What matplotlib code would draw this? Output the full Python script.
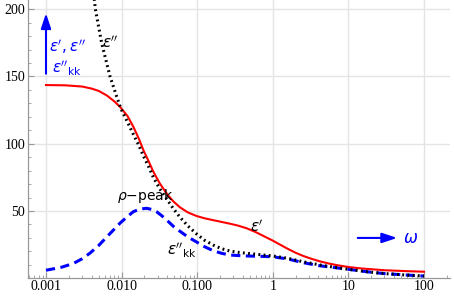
import matplotlib
matplotlib.use("Agg")
import matplotlib.pyplot as plt
import numpy as np
from matplotlib.ticker import FixedLocator, NullFormatter, LogLocator

plt.rcParams['mathtext.fontset'] = 'dejavusans'

# eps' (red, solid)
w_re = [0.001, 0.0018, 0.0030, 0.0040, 0.0050, 0.0064, 0.0080, 0.0095, 0.0120, 0.0143,
        0.0170, 0.0194, 0.0230, 0.0263, 0.0320, 0.0395, 0.0480, 0.059, 0.075, 0.098,
        0.125, 0.163, 0.21, 0.27, 0.35, 0.45, 0.58, 0.75, 1.0, 1.25, 1.53, 2.0, 2.53,
        3.2, 4.2, 5.5, 7.0, 10, 15, 30, 60, 100]
eps_re = [143.6, 143.4, 142.5, 141.0, 139.2, 135.8, 131.5, 127.5, 120.5, 112.6,
          103.5, 95.3, 86.5, 79.2, 70.5, 63.0, 57.3, 52.8, 49.0, 46.3,
          44.6, 43.2, 41.9, 40.6, 39.1, 37.2, 34.6, 31.5, 28.0, 25.0, 22.3, 19.0, 16.6,
          14.6, 12.6, 11.0, 9.8, 8.4, 7.3, 6.0, 5.3, 4.9]

# eps'' (black, dotted)
w_im = [0.0042, 0.0045, 0.00546, 0.00703, 0.0085, 0.0098, 0.0120, 0.0143, 0.0170, 0.0194,
        0.0230, 0.0263, 0.0320, 0.0395, 0.0480, 0.059, 0.075, 0.098, 0.125, 0.163,
        0.21, 0.27, 0.35, 0.45, 0.7, 1.0, 1.6, 2.53, 4.2, 6.5, 10, 18, 30, 60, 100]
eps_im = [215, 200, 174.6, 150, 136, 126, 116, 107, 98.5, 91,
          82.5, 75.0, 66.5, 59.0, 52.0, 45.5, 39.0, 33.0, 28.3, 24.7,
          22.0, 20.3, 19.3, 18.6, 17.5, 16.6, 14.8, 12.3, 9.9, 8.2, 6.7, 4.8, 3.5, 2.4, 1.7]

# eps''_KK (blue, dashed)
w_kk = [0.001, 0.0016, 0.0023, 0.0030, 0.0038, 0.0050, 0.0064, 0.0080, 0.0095, 0.0120,
        0.0143, 0.0175, 0.0215, 0.0250, 0.029, 0.0340, 0.0395, 0.048, 0.059, 0.075,
        0.098, 0.125, 0.163, 0.21, 0.27, 0.35, 0.45, 0.7, 1.0, 1.6, 2.53, 4.2, 6.5,
        10, 18, 30, 60, 100]
eps_kk = [6.0, 8.2, 11.0, 14.5, 18.6, 24.5, 30.9, 36.5, 40.9, 46.0,
          49.5, 51.5, 52.0, 51.2, 49.5, 46.5, 43.3, 38.8, 35.0, 30.8,
          27.0, 23.5, 20.5, 18.6, 17.3, 16.9, 16.6, 16.3, 16.0, 14.3, 11.6, 9.3, 8.0,
          6.7, 4.8, 3.5, 2.4, 1.7]

xticks = [0.001, 0.01, 0.1, 1, 10, 100]
xticklabels = ['0.001', '0.010', '0.100', '1', '10', '100']
yticks = [50, 100, 150, 200]

fig = plt.figure(figsize=(4.54, 2.97), dpi=100)
ax = fig.add_axes([28 / 454, 19.3 / 297, 422 / 454, 277.7 / 297])

ax.plot(w_re, eps_re, color='#ff0000', lw=1.5, zorder=3)
ax.plot(w_im, eps_im, color='black', lw=2.2, ls=(0, (0.6, 1.1)), zorder=4)
ax.plot(w_kk, eps_kk, color='#0000ff', lw=2.2, ls=(0, (3.0, 1.8)), zorder=2)

ax.set_xscale('log')
ax.set_xlim(10 ** -3.238, 10 ** 2.344)
ax.set_ylim(0.45, 206.8)

ax.set_xticks(xticks)
ax.set_xticklabels(xticklabels)
ax.xaxis.set_minor_locator(LogLocator(base=10, subs=np.arange(2, 10), numticks=20))
ax.xaxis.set_minor_formatter(NullFormatter())
ax.set_yticks(yticks)
ax.yaxis.set_minor_locator(FixedLocator(np.arange(10, 201, 10)))

for lab in ax.get_xticklabels() + ax.get_yticklabels():
    lab.set_family('Liberation Serif')
    lab.set_fontsize(10)

ax.tick_params(which='major', direction='in', length=4, width=0.8, color='#999999', pad=2)
ax.tick_params(which='minor', direction='in', length=2, width=0.6, color='#999999')

ax.grid(True, which='major', color='#e4e4e4', lw=1.0)
ax.set_axisbelow(True)
for s in ['top', 'right']:
    ax.spines[s].set_visible(False)
for s in ['left', 'bottom']:
    ax.spines[s].set_color('#999999')
    ax.spines[s].set_linewidth(0.9)

blue = '#0000ff'
# vertical axis arrow and label
ax.annotate('', xy=(0.001, 199), xytext=(0.001, 150),
            arrowprops=dict(arrowstyle='-|>,head_length=0.9,head_width=0.3', color=blue, lw=1.5))
ax.text(0.0019, 172, r"$\epsilon',\epsilon''$", color=blue, fontsize=11, ha='center', va='center')
ax.text(0.0019, 156, r"$\epsilon''_{\rm kk}$", color=blue, fontsize=11, ha='center', va='center')

# horizontal omega arrow
ax.annotate('', xy=(48, 30), xytext=(12.2, 30),
            arrowprops=dict(arrowstyle='-|>,head_length=0.9,head_width=0.3', color=blue, lw=1.5))
ax.text(52, 30, r"$\omega$", color=blue, fontsize=12, ha='left', va='center')

# curve labels
ax.text(0.0204, 54.5, r"$\rho$" + "\u2212peak", fontsize=10, ha='center', va='bottom',
        family='DejaVu Sans')
ax.text(0.0055, 175, r"$\epsilon''$", fontsize=11, ha='left', va='center')
ax.text(0.62, 38, r"$\epsilon'$", fontsize=11, ha='center', va='center')
ax.text(0.063, 20.5, r"$\epsilon''_{\rm kk}$", fontsize=11, ha='center', va='center')

fig.savefig('out.png', dpi=100)
